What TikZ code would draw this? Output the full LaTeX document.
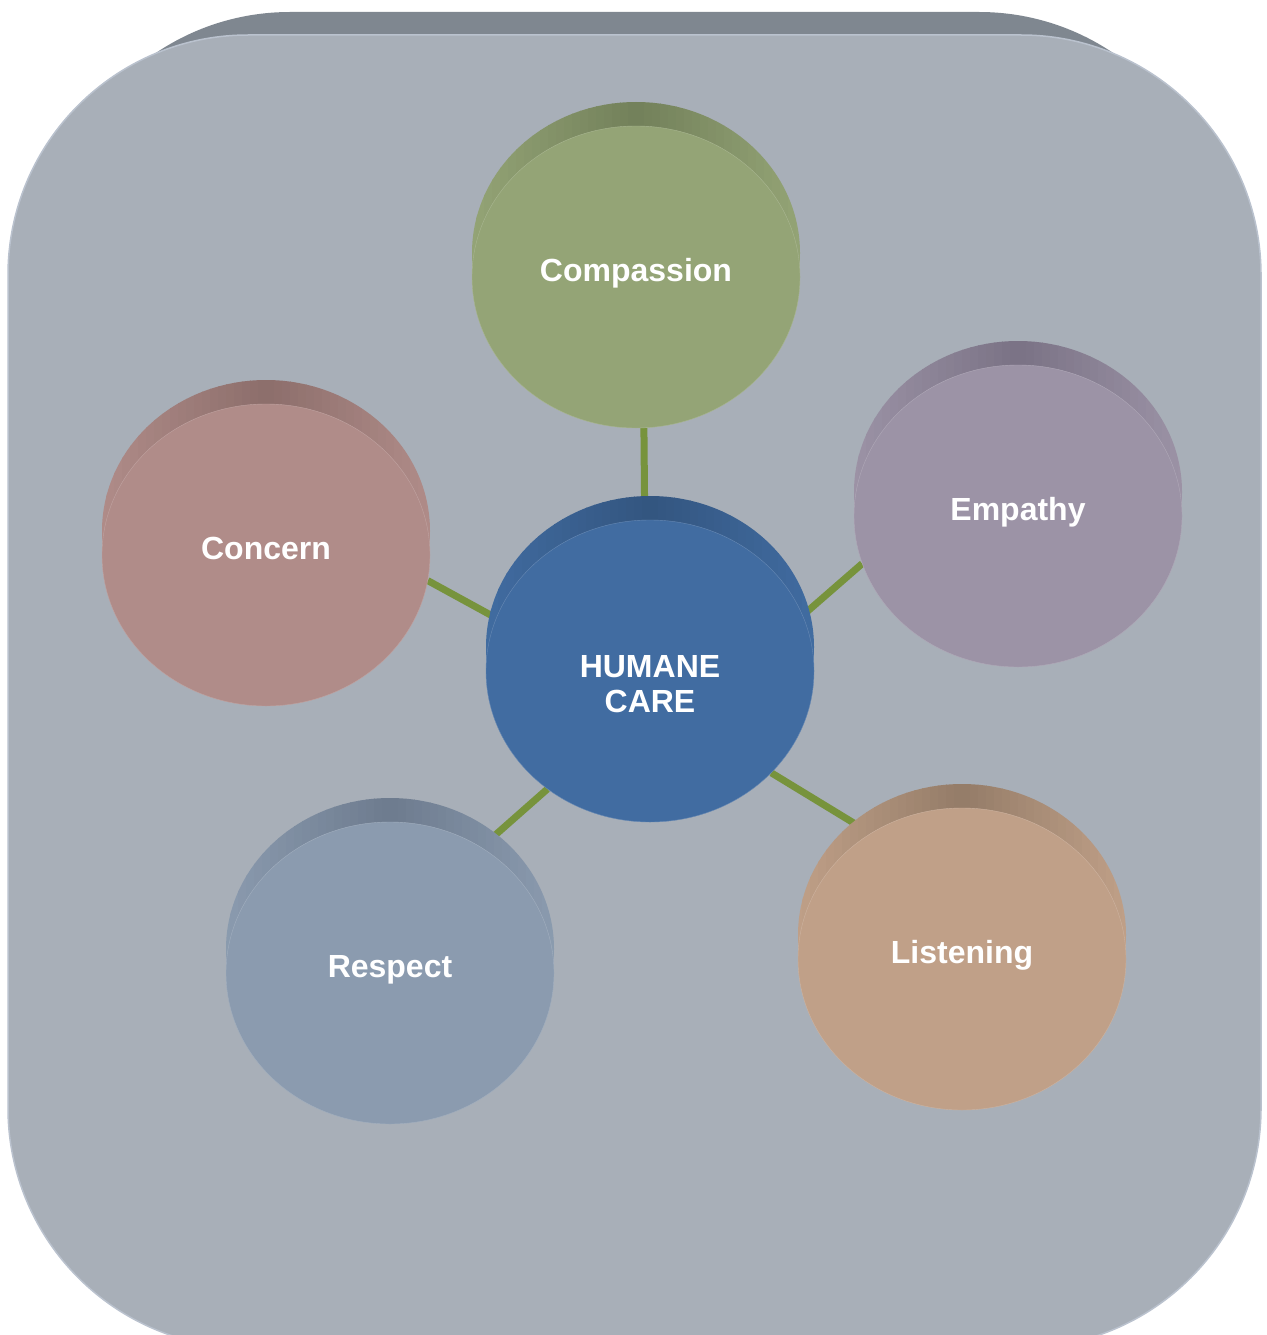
\documentclass[tikz,border=0pt]{standalone}
\usepackage{fontspec}
\setmainfont{Liberation Sans}
\usepackage{tikz}
\usetikzlibrary{shapes.geometric}
\definecolor{boxfront}{HTML}{A8AFB8}
\definecolor{boxback}{HTML}{7F8790}
\definecolor{boxedge}{HTML}{BAC2CE}
\definecolor{linkgreen}{HTML}{77933C}
\definecolor{compfill}{HTML}{94A476}
\definecolor{compdark}{HTML}{72805A}
\definecolor{empfill}{HTML}{9C93A6}
\definecolor{empdark}{HTML}{7A7285}
\definecolor{concfill}{HTML}{B08C89}
\definecolor{concdark}{HTML}{8C6E6B}
\definecolor{hubfill}{HTML}{416CA1}
\definecolor{hubdark}{HTML}{33557F}
\definecolor{respfill}{HTML}{8B9BAF}
\definecolor{respdark}{HTML}{6D7B8E}
\definecolor{lisfill}{HTML}{C0A088}
\definecolor{lisdark}{HTML}{947C68}
\pgfdeclarelayer{back}
\pgfdeclarelayer{wire}
\pgfdeclarelayer{rim}
\pgfsetlayers{back,wire,rim,main}
\tikzset{
  disc/.style={ellipse, minimum width=328pt, minimum height=302pt, inner sep=0pt,
    text=white, align=center, text height=23pt, text depth=14pt,
    font=\bfseries\fontsize{32}{35}\selectfont},
  link/.style={draw=linkgreen, line width=7pt}
}
% back face of a disc: #1 node, #2 face colour, #3 dark colour
\newcommand\backface[3]{%
  \begin{scope}
    \clip ([yshift=24pt]#1.center) ellipse [x radius=164, y radius=151];
    \foreach \k in {-21,...,20}{
      \pgfmathsetmacro\mix{max(0,100-abs(\k+0.5)*4.8)}
      \fill [#3!\mix!#2] ([xshift=\k*8pt,yshift=200pt]#1.center) rectangle ([xshift=\k*8pt+8.5pt,yshift=-200pt]#1.center);
    }
  \end{scope}}

\begin{document}
\begin{tikzpicture}[line cap=butt,line join=round,x=1pt,y=-1pt]
\useasboundingbox (0,0) rectangle (1266,1335);
\clip (0,0) rectangle (1266,1335);
\begin{pgfonlayer}{back}
\fill [boxback, rounded corners=240pt] (50,12) rectangle (1219,1325);
\filldraw [fill=boxfront, draw=boxedge, line width=1.5pt, rounded corners=240pt] (8,35) rectangle (1261,1348);
\end{pgfonlayer}
% front faces
\node [disc, fill=compfill, draw=compfill!80!white] (comp) at (636,277) {Compassion};
\node [disc, fill=empfill, draw=empfill!80!white] (emp) at (1018,516) {Empathy};
\node [disc, fill=concfill, draw=concfill!80!white] (conc) at (266,555) {Concern};
\node [disc, fill=hubfill, draw=hubfill!80!white, text height=92pt, text depth=10pt] (hub) at (650,671) {HUMANE\\CARE};
\node [disc, fill=respfill, draw=respfill!80!white] (resp) at (390,973) {Respect};
\node [disc, fill=lisfill, draw=lisfill!80!white] (lis) at (962,959) {Listening};
% back faces
\begin{pgfonlayer}{rim}
\backface{comp}{compfill}{compdark}
\backface{emp}{empfill}{empdark}
\backface{conc}{concfill}{concdark}
\backface{hub}{hubfill}{hubdark}
\backface{resp}{respfill}{respdark}
\backface{lis}{lisfill}{lisdark}
\end{pgfonlayer}
% spokes
\begin{pgfonlayer}{wire}
\draw [link] (comp.-87) -- (hub.92);
\draw [link] (hub.20) -- (emp.197);
\draw [link] (hub.161) -- (conc.-9);
\draw [link] (hub.229) -- (resp.54);
\draw [link] (hub.-40) -- (lis.126);
\end{pgfonlayer}
\end{tikzpicture}
\end{document}
